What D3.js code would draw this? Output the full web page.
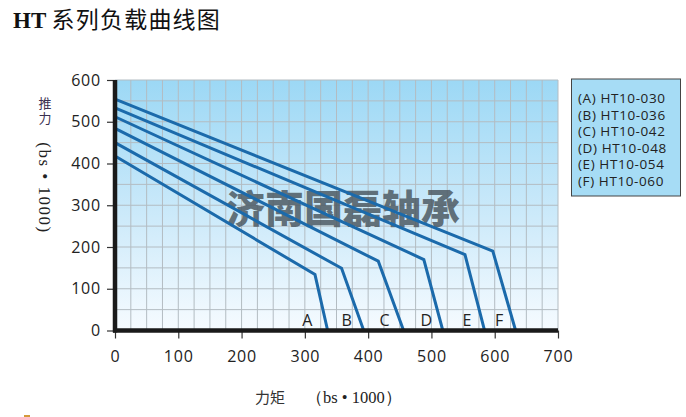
<!DOCTYPE html>
<html>
<head>
<meta charset="utf-8">
<script src="https://cdn.jsdelivr.net/npm/d3@7"></script>
<style>
  body { margin: 0; background: #fff; }
  svg { display: block; }
</style>
</head>
<body>
<svg id="chart" width="686" height="417"></svg>
<script>
// series letters and model names
var letters = ["A", "B", "C", "D", "E", "F"];
var models = ["HT10-030", "HT10-036", "HT10-042", "HT10-048", "HT10-054", "HT10-060"];
// each curve: start thrust at moment 0, knee point, end at thrust 0
var startY = [418, 450, 484, 512, 533, 554];
var kneeX = [316, 358, 416, 488, 553, 597];
var kneeY = [134, 149, 166, 170, 182, 190];
var endX = [336, 393, 456, 518, 584, 633];
// letter label positions (moment units)
var labelX = [304, 366, 426, 492, 556, 607];
var xTicks = [0, 100, 200, 300, 400, 500, 600, 700];
var yTicks = [0, 100, 200, 300, 400, 500, 600];

var svg = d3.select("#chart");

var x = d3.scaleLinear().domain([0, 700]).range([115, 558]);
var y = d3.scaleLinear().domain([0, 600]).range([330.5, 80]);

// title
var title = svg.append("text")
  .attr("x", 13)
  .attr("y", 28)
  .attr("fill", "#111");
title.append("tspan")
  .attr("font-family", "Liberation Serif, serif")
  .attr("font-weight", "bold")
  .attr("font-size", 23)
  .text("HT ");
title.append("tspan")
  .attr("font-family", "Noto Sans CJK SC, sans-serif")
  .attr("font-size", 23)
  .attr("letter-spacing", 1.2)
  .text("系列负载曲线图");

// background gradient
var defs = svg.append("defs");
var grad = defs.append("linearGradient")
  .attr("id", "bg")
  .attr("x1", 0).attr("y1", 0).attr("x2", 0).attr("y2", 1);
grad.append("stop").attr("offset", "0%").attr("stop-color", "#9cd8f5");
grad.append("stop").attr("offset", "55%").attr("stop-color", "#cdeafa");
grad.append("stop").attr("offset", "100%").attr("stop-color", "#f6fbff");

svg.append("rect")
  .attr("x", x(0))
  .attr("y", y(600))
  .attr("width", x(700) - x(0))
  .attr("height", y(0) - y(600))
  .attr("fill", "url(#bg)");

// grid: every 25 on x, every 50 on y
var gridX = d3.range(25, 701, 25);
var gridY = d3.range(50, 601, 50);
svg.append("g").selectAll("line").data(gridX).enter().append("line")
  .attr("x1", d => x(d)).attr("x2", d => x(d))
  .attr("y1", y(600)).attr("y2", y(0))
  .attr("stroke", "#b3bcc2").attr("stroke-width", 1);
svg.append("g").selectAll("line").data(gridY).enter().append("line")
  .attr("x1", x(0)).attr("x2", x(700))
  .attr("y1", d => y(d)).attr("y2", d => y(d))
  .attr("stroke", "#b3bcc2").attr("stroke-width", 1);

// watermark
svg.append("text")
  .attr("x", 343)
  .attr("y", 223)
  .attr("text-anchor", "middle")
  .attr("font-family", "Noto Sans CJK SC, sans-serif")
  .attr("font-weight", 900)
  .attr("font-size", 39)
  .attr("fill", "#4d5a63")
  .attr("fill-opacity", 0.85)
  .text("济南国磊轴承");

// curves
var line = d3.line().x(d => x(d[0])).y(d => y(d[1]));
var curves = letters.map(function(l, i){
  return [[0, startY[i]], [kneeX[i], kneeY[i]], [endX[i], 0]];
});
svg.append("g").selectAll("path").data(curves).enter().append("path")
  .attr("d", line)
  .attr("fill", "none")
  .attr("stroke", "#1b6aab")
  .attr("stroke-width", 3);

// letters near bottom
svg.append("g").selectAll("text").data(letters).enter().append("text")
  .attr("x", (d, i) => x(labelX[i]))
  .attr("y", 326)
  .attr("text-anchor", "middle")
  .attr("font-family", "Open Sans, sans-serif")
  .attr("font-size", 16)
  .attr("fill", "#222")
  .text(d => d);

// axes
var xAxis = svg.append("g")
  .attr("transform", "translate(0," + y(0) + ")")
  .call(d3.axisBottom(x).tickValues(xTicks).tickSize(8).tickPadding(12));
var yAxis = svg.append("g")
  .attr("transform", "translate(" + x(0) + ",0)")
  .call(d3.axisLeft(y).tickValues(yTicks).tickSize(8).tickPadding(6));
[xAxis, yAxis].forEach(function(a){
  a.select(".domain").remove();
  a.selectAll(".tick line").attr("stroke", "#333").attr("stroke-width", 1.2);
  a.selectAll(".tick text")
    .attr("font-family", "Open Sans, sans-serif")
    .attr("font-size", 16)
    .attr("letter-spacing", 0.8)
    .attr("fill", "#222");
});
// thick axis lines
svg.append("line")
  .attr("x1", x(0)).attr("x2", x(0))
  .attr("y1", y(600)).attr("y2", y(0) + 2)
  .attr("stroke", "#1a1a1a").attr("stroke-width", 4.5);
svg.append("line")
  .attr("x1", x(0) - 2).attr("x2", x(700))
  .attr("y1", y(0)).attr("y2", y(0))
  .attr("stroke", "#1a1a1a").attr("stroke-width", 4.5);

// y axis title: upright stacked characters, then rotated unit
svg.append("text")
  .attr("x", 45)
  .attr("y", 97)
  .attr("writing-mode", "tb")
  .attr("font-family", "Noto Sans CJK SC, sans-serif")
  .attr("font-size", 13)
  .attr("letter-spacing", 2)
  .attr("fill", "#3a3050")
  .text("推力");
svg.append("text")
  .attr("transform", "translate(39,188) rotate(90)")
  .attr("text-anchor", "middle")
  .attr("font-family", "Liberation Serif, serif")
  .attr("font-size", 17)
  .attr("letter-spacing", 1.5)
  .attr("fill", "#222")
  .text("(bs • 1000)");

// x axis title
svg.append("text")
  .attr("x", 255).attr("y", 403)
  .attr("font-family", "Noto Sans CJK SC, sans-serif")
  .attr("font-size", 15)
  .attr("fill", "#333")
  .text("力矩");
svg.append("text")
  .attr("x", 306).attr("y", 403)
  .attr("font-family", "Liberation Serif, serif")
  .attr("font-size", 16.5)
  .attr("fill", "#222")
  .text("（bs • 1000）");

// legend
var lg = svg.append("g");
lg.append("rect")
  .attr("x", 571.5).attr("y", 79)
  .attr("width", 109).attr("height", 117)
  .attr("fill", "#a6dcf5")
  .attr("stroke", "#444").attr("stroke-width", 1);
lg.selectAll("text").data(models).enter().append("text")
  .attr("x", 578)
  .attr("y", (d, i) => 103 + i * 16.6)
  .attr("font-family", "Open Sans, sans-serif")
  .attr("font-size", 13.5)
  .attr("letter-spacing", 0.6)
  .attr("fill", "#222")
  .text((d, i) => "(" + letters[i] + ") " + d);

// small orange mark bottom left
svg.append("rect")
  .attr("x", 24).attr("y", 415).attr("width", 6).attr("height", 2)
  .attr("fill", "#d49a3a");
</script>
</body>
</html>
